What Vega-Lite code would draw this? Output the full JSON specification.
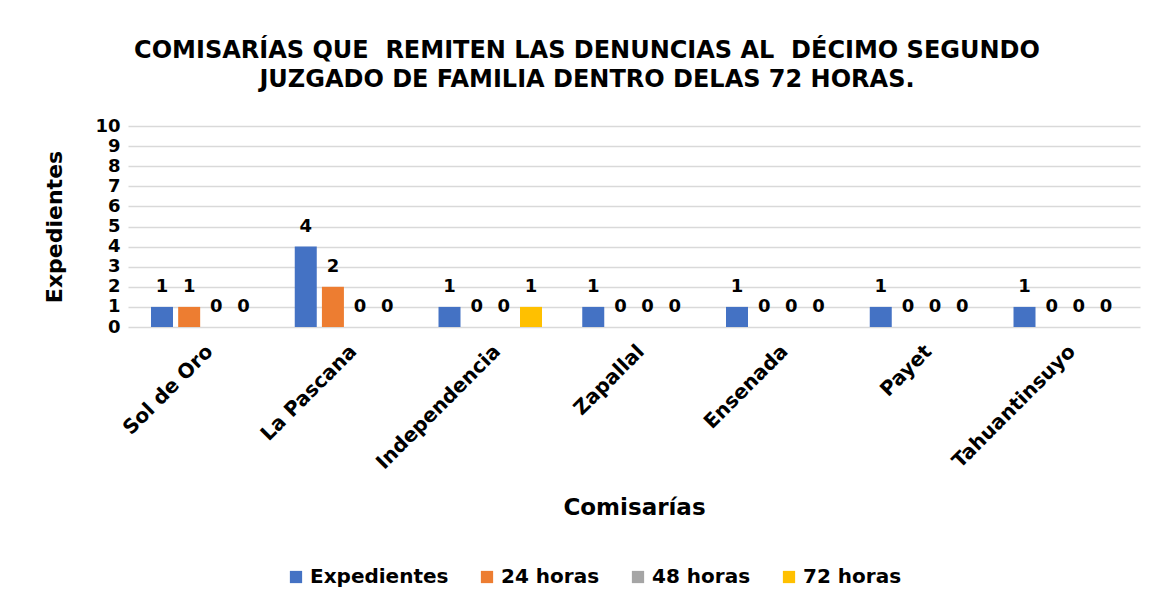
{
  "$schema": "https://vega.github.io/schema/vega-lite/v6.json",
  "width": 1012,
  "height": 201,
  "padding": {"left": 43, "top": 39, "right": 13, "bottom": 10},
  "background": "white",
  "config": {
    "font": "DejaVu Sans",
    "view": {"stroke": null}
  },
  "title": {
    "text": ["COMISARÍAS QUE \u00a0REMITEN LAS DENUNCIAS AL \u00a0DÉCIMO SEGUNDO", "JUZGADO DE FAMILIA DENTRO DELAS 72 HORAS."],
    "font": "DejaVu Sans",
    "fontSize": 24,
    "fontWeight": "bold",
    "color": "#000000",
    "lineHeight": 29,
    "anchor": "middle",
    "frame": "bounds",
    "dx": -5,
    "offset": 25
  },
  "data": {
    "values": [
      {"comisaria": "Sol de Oro", "serie": "Expedientes", "valor": 1},
      {"comisaria": "Sol de Oro", "serie": "24 horas", "valor": 1},
      {"comisaria": "Sol de Oro", "serie": "48 horas", "valor": 0},
      {"comisaria": "Sol de Oro", "serie": "72 horas", "valor": 0},
      {"comisaria": "La Pascana", "serie": "Expedientes", "valor": 4},
      {"comisaria": "La Pascana", "serie": "24 horas", "valor": 2},
      {"comisaria": "La Pascana", "serie": "48 horas", "valor": 0},
      {"comisaria": "La Pascana", "serie": "72 horas", "valor": 0},
      {"comisaria": "Independencia", "serie": "Expedientes", "valor": 1},
      {"comisaria": "Independencia", "serie": "24 horas", "valor": 0},
      {"comisaria": "Independencia", "serie": "48 horas", "valor": 0},
      {"comisaria": "Independencia", "serie": "72 horas", "valor": 1},
      {"comisaria": "Zapallal", "serie": "Expedientes", "valor": 1},
      {"comisaria": "Zapallal", "serie": "24 horas", "valor": 0},
      {"comisaria": "Zapallal", "serie": "48 horas", "valor": 0},
      {"comisaria": "Zapallal", "serie": "72 horas", "valor": 0},
      {"comisaria": "Ensenada", "serie": "Expedientes", "valor": 1},
      {"comisaria": "Ensenada", "serie": "24 horas", "valor": 0},
      {"comisaria": "Ensenada", "serie": "48 horas", "valor": 0},
      {"comisaria": "Ensenada", "serie": "72 horas", "valor": 0},
      {"comisaria": "Payet", "serie": "Expedientes", "valor": 1},
      {"comisaria": "Payet", "serie": "24 horas", "valor": 0},
      {"comisaria": "Payet", "serie": "48 horas", "valor": 0},
      {"comisaria": "Payet", "serie": "72 horas", "valor": 0},
      {"comisaria": "Tahuantinsuyo", "serie": "Expedientes", "valor": 1},
      {"comisaria": "Tahuantinsuyo", "serie": "24 horas", "valor": 0},
      {"comisaria": "Tahuantinsuyo", "serie": "48 horas", "valor": 0},
      {"comisaria": "Tahuantinsuyo", "serie": "72 horas", "valor": 0}
    ]
  },
  "encoding": {
    "x": {
      "field": "comisaria",
      "type": "nominal",
      "sort": null,
      "scale": {"paddingInner": 0.28, "paddingOuter": 0.16},
      "axis": {
        "title": "Comisarías",
        "titleFontSize": 23,
        "titleFontWeight": "bold",
        "titleColor": "#000000",
        "titlePadding": 24,
        "labelAngle": -45,
        "labelFontSize": 20,
        "labelFontWeight": "bold",
        "labelColor": "#000000",
        "labelPadding": 14,
        "domain": false,
        "ticks": false
      }
    },
    "xOffset": {
      "field": "serie",
      "type": "nominal",
      "sort": ["Expedientes", "24 horas", "48 horas", "72 horas"],
      "scale": {"paddingInner": 0.19, "paddingOuter": 0}
    },
    "y": {
      "field": "valor",
      "type": "quantitative",
      "scale": {"domain": [0, 10], "nice": false},
      "axis": {
        "title": "Expedientes",
        "titleFontSize": 22,
        "titleFontWeight": "bold",
        "titleColor": "#000000",
        "titlePadding": 28,
        "values": [0, 1, 2, 3, 4, 5, 6, 7, 8, 9, 10],
        "labelFontSize": 18,
        "labelFontWeight": "bold",
        "labelColor": "#000000",
        "labelPadding": 8,
        "domain": false,
        "ticks": false,
        "gridColor": "#d9d9d9",
        "gridWidth": 1.6
      }
    }
  },
  "layer": [
    {
      "mark": {"type": "bar"},
      "encoding": {
        "color": {
          "field": "serie",
          "type": "nominal",
          "sort": ["Expedientes", "24 horas", "48 horas", "72 horas"],
          "scale": {
            "domain": ["Expedientes", "24 horas", "48 horas", "72 horas"],
            "range": ["#4472C4", "#ED7D31", "#A5A5A5", "#FFC000"]
          },
          "legend": {
            "title": null,
            "orient": "none",
            "legendX": 158,
            "legendY": 441,
            "direction": "horizontal",
            "symbolType": "square",
            "symbolSize": 150,
            "symbolStrokeWidth": 0,
            "labelFontSize": 20,
            "labelFontWeight": "bold",
            "labelColor": "#000000",
            "labelOffset": 4,
            "labelExpr": "datum.label == '24 horas' ? '\u00a024 horas' : datum.label",
            "columnPadding": 28
          }
        }
      }
    },
    {
      "mark": {
        "type": "text",
        "baseline": "alphabetic",
        "dy": -15,
        "fontSize": 18,
        "fontWeight": "bold",
        "color": "#000000"
      },
      "encoding": {
        "text": {"field": "valor", "type": "quantitative"}
      }
    }
  ]
}
